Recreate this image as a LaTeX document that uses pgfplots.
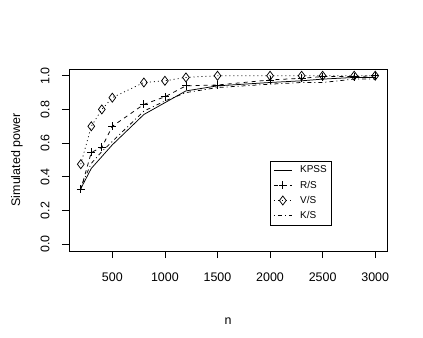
\documentclass[border=0pt]{standalone}
\usepackage{fontspec}
\setmainfont{Liberation Sans}
\usepackage{pgfplots}
\pgfplotsset{compat=1.18}

\pgfplotstableread{
n    kpss  rs    vs    ks
200  0.33  0.325 0.475 0.34
300  0.45  0.545 0.700 0.48
400  0.52  0.575 0.800 0.55
500  0.59  0.700 0.870 0.61
800  0.77  0.830 0.960 0.79
1000 0.84  0.875 0.970 0.85
1200 0.91  0.940 0.990 0.90
1500 0.94  0.945 1.000 0.93
2000 0.96  0.975 1.000 0.95
2300 0.97  0.985 1.000 0.96
2500 0.98  0.995 1.000 0.96
2800 0.99  0.995 1.000 0.98
3000 0.99  1.000 1.000 0.98
}\powertab

\begin{document}
\begin{tikzpicture}
\path[use as bounding box] (0,0) rectangle (423bp,338bp);
\begin{axis}[
    at={(69bp,87bp)}, anchor=south west,
    scale only axis, width=318bp, height=182bp,
    xmin=88, xmax=3112, ymin=-0.04, ymax=1.04,
    xtick={500,1000,1500,2000,2500,3000},
    ytick={0,0.2,0.4,0.6,0.8,1.0},
    xtick pos=bottom, ytick pos=left,
    tick align=outside, major tick length=7bp,
    axis line style={line width=0.75bp},
    every tick/.style={black, line width=0.75bp},
    /pgf/number format/assume math mode=true,
    tick label style={font=\fontsize{12.5}{14}\selectfont},
    xticklabel style={/pgf/number format/set thousands separator={}},
    xticklabel shift=11bp,
    yticklabel shift=9bp,
    yticklabel style={rotate=90, anchor=south,
        /pgf/number format/fixed, /pgf/number format/fixed zerofill,
        /pgf/number format/precision=1},
    xlabel={n}, ylabel={Simulated power},
    label style={font=\fontsize{12.5}{14}\selectfont},
    xlabel style={at={(axis description cs:0.5,-0.385)}, anchor=center},
    ylabel style={at={(axis description cs:-0.1635,0.5)}, anchor=center},
    every axis plot/.append style={black, line width=0.75bp},
    legend style={at={(axis cs:2000,0.496)}, anchor=north west,
        draw=black, line width=0.75bp, inner xsep=3bp, inner ysep=3bp,
        font=\fontsize{10}{12}\selectfont, row sep=2.5bp,
        /tikz/every odd column/.append style={column sep=6bp}},
    legend cell align=left,
    legend image code/.code={
        \draw[mark repeat=2,mark phase=2] plot coordinates {(0bp,0bp) (9bp,0bp) (18bp,0bp)};},
]
\addplot[solid] table[x=n, y=kpss] {\powertab};
\addlegendentry{KPSS}
\addplot[dash pattern=on 4bp off 4bp, mark=+, mark size=4bp, mark options={solid}]
    table[x=n, y=rs] {\powertab};
\addlegendentry{R/S}
\addplot[dash pattern=on 1bp off 3bp, mark=diamond, mark size=4.5bp,
    mark options={solid, fill=white}] table[x=n, y=vs] {\powertab};
\addlegendentry{V/S}
\addplot[dash pattern=on 1bp off 3bp on 4bp off 3bp] table[x=n, y=ks] {\powertab};
\addlegendentry{K/S}
\end{axis}
\end{tikzpicture}
\end{document}
